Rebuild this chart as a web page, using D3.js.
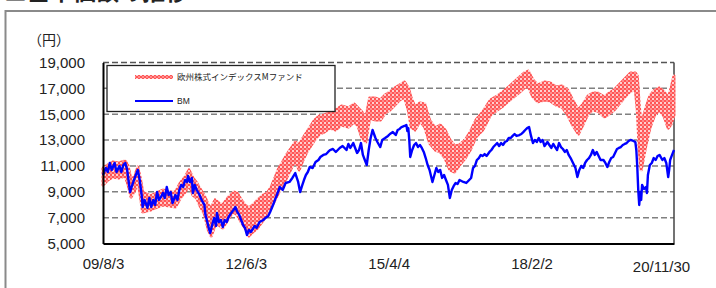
<!DOCTYPE html>
<html><head><meta charset="utf-8">
<script src="https://cdn.jsdelivr.net/npm/d3@7"></script>
<style>body{margin:0;background:#fff;}svg{display:block;}</style>
</head><body>
<svg id="c" width="716" height="288"></svg>
<script>
// ---- data ----
const titleText = "■基準価額の推移";
const unitLabel = "（円）";
const seriesNames = ["欧州株式インデックスMファンド", "BM"];
const startDate = "2009-08-03";            // week 0
const tickDates = ["2009-08-03","2012-06-03","2015-04-04","2018-02-02","2020-11-30"];
const tickLabels = ["09/8/3","12/6/3","15/4/4","18/2/2","20/11/30"];
const yTicks = [5000,7000,9000,11000,13000,15000,17000,19000];

// BM: weeks since start, value (yen)
const bmWeeks = [
 0,3,5,7,9,12,14,17,19,21,
 23,25,28,30,32,34,36,38,40,41,
 43,46,48,50,52,54,56,58,60,62,
 64,66,68,70,72,75,77,79,81,83,
 85,87,88,90,92,93,95,97,100,102,
 105,106,108,110,111,113,115,117,118,120,
 122,124,126,128,130,132,135,137,139,141,
 143,145,147,149,151,153,155,157,159,162,
 166,168,171,173,176,178,180,183,186,189,
 193,196,199,202,204,206,208,210,212,214,
 217,220,223,225,228,231,233,235,238,241,
 245,248,252,254,256,259,261,263,265,267,
 269,271,273,275,277,279,282,284,287,289,
 292,295,297,300,303,305,307,309,312,314,
 315,316,317,318,320,322,324,326,328,330,
 332,334,336,338,341,343,345,347,349,351,
 353,355,357,359,361,363,365,367,369,373,
 376,379,381,383,385,387,389,391,393,395,
 397,400,402,404,406,408,410,412,414,416,
 418,420,422,424,426,428,431,433,435,437,
 439,441,443,445,447,449,451,453,455,457,
 460,462,464,466,468,470,472,474,476,478,
 480,482,484,486,489,491,493,495,497,499,
 501,503,505,507,509,511,513,515,518,520,
 522,524,526,528,530,532,534,536,538,540,
 542,544,546,549,551,552,553,554,555,556,
 557,558,560,562,563,564,566,568,570,572,
 574,576,579,581,583,585,586,587,589,591];
const bmValues = [
 10300,10840,10530,11230,10690,11230,10530,11000,10530,11070,
 11230,10690,8980,9450,9910,10300,10690,9910,8750,7820,
 8370,7750,8520,7820,8370,7980,8980,8370,8600,8910,
 8520,9370,8750,8980,8130,8750,8370,9140,9530,9370,
 9910,9760,10220,9760,10070,8910,9530,9140,8750,8370,
 7980,7210,6660,6050,5810,6430,6970,6360,7360,6660,
 6820,6280,6820,6660,7050,7280,7590,7820,7440,7210,
 6820,6430,6200,5660,6050,5890,6120,6360,6200,6660,
 6820,6970,7130,7440,7980,8370,8750,9370,9140,9680,
 9760,10070,10450,9760,8980,9450,9910,10300,10530,10920,
 10840,11300,11460,11690,11850,11920,12080,12230,12310,12080,
 12390,12540,12230,12700,12390,12770,12390,12000,12230,12770,
 11850,11460,11070,12230,13160,13780,13160,12850,12460,13010,
 13160,13320,13470,13620,13390,13780,13860,14010,14090,14170,
 13700,13930,13010,11690,12230,12620,12770,12460,12620,12390,
 12080,11610,11070,10690,9760,10300,10840,10530,10690,10070,
 10300,9910,9530,8520,9140,9450,9680,9600,9910,9760,
 9680,9910,10070,10840,11000,11460,11610,11850,11770,11920,
 11770,12080,12230,12460,12620,12770,12540,12770,12620,12850,
 12930,13160,13160,13320,13470,13320,13390,13470,13620,13780,
 13930,14010,13320,12770,13010,12850,13160,12850,13010,12540,
 12850,12620,12390,12700,12460,12230,12770,12460,12310,12080,
 12230,11850,11610,11300,10840,10140,10690,11000,10840,11230,
 11460,11610,11850,12230,11850,12080,11770,11460,11460,11230,
 10920,11300,11610,11690,12000,12310,12390,12460,12620,12700,
 12770,12930,13010,12930,12850,12230,10920,9140,7980,8980,
 8370,9530,9220,9370,8910,10300,11070,11230,11610,11460,
 11770,11850,11460,11610,11230,10140,10690,11460,11850,12230];

// Fund: weekly high / low of the drawn fund line band (yen)
const fundWeeks = [
 0,5,10,16,23,26,29,33,36,39,
 41,49,56,62,69,75,80,85,89,93,
 97,100,105,109,112,116,120,124,129,135,
 139,143,147,151,155,160,166,170,174,178,
 182,186,190,195,199,203,207,211,215,219,
 224,229,235,241,247,254,260,264,268,272,
 276,282,287,292,297,302,307,312,316,319,
 323,328,333,338,344,349,354,359,364,369,
 375,380,386,393,401,408,414,421,430,436,
 440,445,450,457,463,469,475,481,486,492,
 497,502,507,512,519,524,529,535,541,546,
 551,553,555,557,559,562,566,571,576,581,
 585,588,591];
const fundUpper = [
 10840,11070,11300,11230,11380,11000,9910,10220,10920,9910,
 8980,8680,8910,9140,8980,8980,9680,10140,10690,10070,
 9680,9290,8680,7980,7750,8370,8130,7980,8520,8980,
 8910,8370,7980,7750,7980,8370,8750,8910,9370,10070,
 10840,11300,11850,12390,12850,12620,13160,13620,14090,14550,
 14860,14940,15170,15330,15640,15480,15790,15480,15170,14710,
 16250,16250,16100,16490,16720,17030,17260,17490,17030,16250,
 15560,15870,15790,14550,13930,14170,13780,13010,12540,12620,
 13010,13620,14550,15170,16100,16410,16720,17180,17800,18190,
 18340,17650,17260,17490,17420,17110,17180,16870,16100,15330,
 15790,16410,16640,16640,16330,16640,16870,17340,17800,18190,
 18190,17960,15710,14170,14710,15480,16410,16870,17030,16720,
 16250,17030,17960];
const fundLower = [
 9530,9910,10140,10070,10220,9530,8600,9140,9910,8520,
 7440,7590,7820,7980,7900,7820,8520,8980,9530,8750,
 8520,7980,7280,6050,5580,6430,6430,6200,6820,7440,
 7210,6660,6200,5580,5890,6200,6820,7440,7750,8370,
 8980,9530,10070,10840,11460,10690,11460,12080,12540,13010,
 13470,13620,13930,13780,14170,14010,14400,14090,13160,12850,
 14710,14550,14550,15090,15330,15710,16100,16330,15330,14010,
 13780,14480,14010,12770,12230,12080,11610,10690,10530,11070,
 11610,12230,13240,13780,14940,15330,15640,16100,16640,17030,
 17180,16330,15950,16100,16020,15710,15560,14940,14170,13470,
 14240,15020,15330,15250,14790,15020,15330,15870,16410,16800,
 16870,15330,12230,10690,11460,12620,13930,14940,15330,14790,
 13930,14240,14940];

// ---- chart ----
const svg = d3.select("#c");
const NUM = "'Liberation Sans', Arial, sans-serif";
const JP = "'Noto Sans CJK JP', sans-serif";
const m = {left:103, right:674, top:62.5, bottom:243.5};
const parse = d3.utcParse("%Y-%m-%d");
const t0 = parse(startDate);
const wk = w => d3.utcDay.offset(t0, Math.round(w * 7));
const x = d3.scaleUtc().domain([t0, parse(tickDates[tickDates.length-1])]).range([m.left, m.right]);
const y = d3.scaleLinear().domain([yTicks[0], yTicks[yTicks.length-1]]).range([m.bottom, m.top]);

const defs = svg.append("defs");
const pat = defs.append("pattern").attr("id","chk").attr("patternUnits","userSpaceOnUse")
  .attr("width",4).attr("height",4);
pat.append("rect").attr("width",4).attr("height",4).attr("fill","#ffd0d0").attr("shape-rendering","crispEdges");
pat.append("rect").attr("width",2).attr("height",2).attr("fill","#ff5555").attr("shape-rendering","crispEdges");
pat.append("rect").attr("x",2).attr("y",2).attr("width",2).attr("height",2).attr("fill","#ff5555").attr("shape-rendering","crispEdges");
pat.append("rect").attr("x",2).attr("y",0).attr("width",2).attr("height",2).attr("fill","#ff8c8c").attr("shape-rendering","crispEdges");

// title (cut at top) and outer frame
svg.append("text").attr("x",4).attr("y",0).attr("font-family",JP).attr("font-size",23)
  .attr("font-weight","bold").attr("fill","#222").text(titleText);
svg.append("path").attr("d","M5.5,300 V11 H730").attr("fill","none")
  .attr("stroke","#8a8a8a").attr("stroke-width",2);

// unit label
svg.append("text").attr("x",28).attr("y",44.5).attr("font-family",JP).attr("font-size",14)
  .attr("fill","#222").text(unitLabel);

// gridlines
svg.append("g").selectAll("line").data(yTicks.slice(1)).join("line")
  .attr("x1",m.left).attr("x2",m.right).attr("y1",d=>y(d)).attr("y2",d=>y(d))
  .attr("stroke",d=>d===yTicks[yTicks.length-1]?"#555":"#808080")
  .attr("stroke-width",1.5).attr("stroke-dasharray","6,3");

// right border
svg.append("line").attr("x1",m.right).attr("x2",m.right).attr("y1",m.top).attr("y2",m.bottom)
  .attr("stroke","#444").attr("stroke-width",1.5);

// fund band
const area = d3.area().x((d,i)=>x(wk(fundWeeks[i]))).y0((d,i)=>y(fundLower[i])).y1((d,i)=>y(fundUpper[i]));
svg.append("path").attr("d",area(fundWeeks)).attr("fill","url(#chk)")
  .attr("stroke","url(#chk)").attr("stroke-width",3).attr("stroke-linejoin","round");

// BM line
const line = d3.line().x((d,i)=>x(wk(bmWeeks[i]))).y((d,i)=>y(bmValues[i]));
svg.append("path").attr("d",line(bmWeeks)).attr("fill","none")
  .attr("stroke","#0000ff").attr("stroke-width",2.4).attr("stroke-linejoin","round");

// axes
const yAxis = svg.append("g").attr("transform",`translate(${m.left},0)`)
  .call(d3.axisLeft(y).tickValues(yTicks).tickSize(0).tickSizeOuter(0).tickPadding(18).tickFormat(d3.format(",")));
yAxis.select(".domain").attr("stroke","#000").attr("stroke-width",2);
yAxis.selectAll("text").attr("font-family",NUM).attr("font-size",15).attr("fill","#222");

const xAxis = svg.append("g").attr("transform",`translate(0,${m.bottom})`)
  .call(d3.axisBottom(x).tickValues(tickDates.map(parse)).tickSize(0).tickSizeOuter(0).tickPadding(15)
    .tickFormat((d,i)=>tickLabels[i]));
xAxis.select(".domain").attr("stroke","#000").attr("stroke-width",2);
xAxis.selectAll("text").attr("font-family",NUM).attr("font-size",15).attr("fill","#222");
xAxis.selectAll(".tick").filter((d,i)=>i===tickLabels.length-1).select("text")
  .attr("dx",-13).attr("dy","0.9em");

// legend
const lg = svg.append("g");
lg.append("rect").attr("x",107).attr("y",65.5).attr("width",228).attr("height",46)
  .attr("fill","#fff").attr("stroke","#222").attr("stroke-width",1.3);
lg.append("line").attr("x1",135).attr("x2",173).attr("y1",77).attr("y2",77)
  .attr("stroke","url(#chk)").attr("stroke-width",4);
lg.append("line").attr("x1",135).attr("x2",173).attr("y1",101).attr("y2",101)
  .attr("stroke","#0000ff").attr("stroke-width",2);
lg.selectAll("text").data(seriesNames).join("text")
  .attr("x",177).attr("y",(d,i)=>i===0?80:104)
  .attr("font-family",(d,i)=>i===0?JP:NUM).attr("font-size",8.5).attr("fill","#222").text(d=>d);
</script>
</body></html>
